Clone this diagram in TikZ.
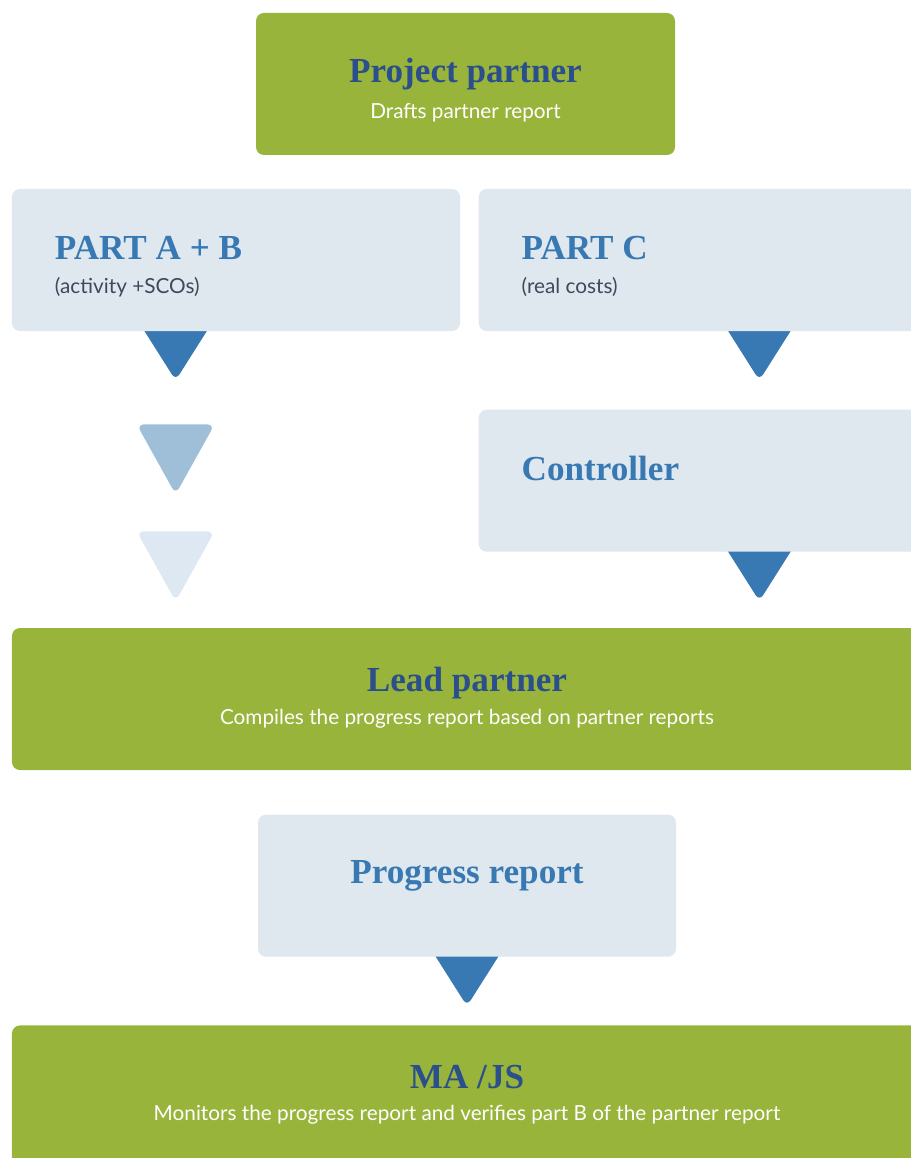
\documentclass[tikz,border=0pt]{standalone}
\usepackage{fontspec}
\setmainfont{Liberation Serif}
\newfontfamily\latofont{Lato}
\usetikzlibrary{positioning, calc, backgrounds}

\definecolor{leafgreen}{HTML}{98B43A}
\definecolor{paleblue}{HTML}{DFE7EF}
\definecolor{navy}{HTML}{2B4F8C}
\definecolor{steelblue}{HTML}{3879B3}
\definecolor{slate}{HTML}{3E4A5B}
\definecolor{fadeblue}{HTML}{9FBFD9}
\definecolor{faintblue}{HTML}{DDE8F2}

\begin{document}
\begin{tikzpicture}[
  x=0.2mm, y=-0.2mm,
  greenbox/.style={fill=leafgreen, rounded corners=1.6mm, minimum height=28.4mm, inner sep=0pt},
  greybox/.style={fill=paleblue, rounded corners=1.6mm, minimum height=28.4mm, minimum width=89.6mm, inner sep=0pt},
  bigtitle/.style={font=\bfseries\fontsize{20}{24}\selectfont, inner sep=0pt},
  subline/.style={font=\latofont\fontsize{11.8}{14}\selectfont, inner sep=0pt},
  pointer/.pic={\fill[rounded corners=1.4mm] (-38,-11) -- (38,-11) -- (0,49) -- cycle;},
  fadedpointer/.pic={\fill[rounded corners=1.5mm] (-39,0) -- (39,0) -- (0,70) -- cycle;}
]
\useasboundingbox (0,0) rectangle (911,1158);
\clip (0,0) rectangle (911,1158);

% boxes
\node[greenbox, minimum width=83.8mm] (pp) at (465.5,84) {};
\node[greybox] (pab) at (236,260) {};
\node[greybox, right=3.6mm of pab] (pc) {};
\node[greybox, below=15.6mm of pc] (ctrl) {};
\node[greenbox, minimum width=182mm] (lp) at (467,699) {};
\node[greybox, minimum width=83.6mm, below=8.8mm of lp] (pr) {};
\node[greenbox, minimum width=182mm, below=13.6mm of pr] (mj) {};

% texts
\node[bigtitle, text=navy, anchor=base] (pp-title) at ($(pp.north)+(0,70)$) {Project partner};
\node[subline, text=white, anchor=base] (pp-sub) at ($(pp.north)+(0,106)$) {Drafts partner report};
\node[bigtitle, text=steelblue, anchor=base west] (pab-title) at ($(pab.north west)+(43,71)$) {PART A + B};
\node[subline, text=slate, anchor=base west] (pab-sub) at ($(pab.north west)+(43,105)$) {(activity +SCOs)};
\node[bigtitle, text=steelblue, anchor=base west] (pc-title) at ($(pc.north west)+(43,71)$) {PART C};
\node[subline, text=slate, anchor=base west] (pc-sub) at ($(pc.north west)+(43,105)$) {(real costs)};
\node[bigtitle, text=steelblue, anchor=base west] (ctrl-title) at ($(ctrl.north west)+(43,71)$) {Controller};
\node[bigtitle, text=navy, anchor=base] (lp-title) at ($(lp.north)+(0,64)$) {Lead partner};
\node[subline, text=white, anchor=base] (lp-sub) at ($(lp.north)+(0,97)$) {Compiles the progress report based on partner reports};
\node[bigtitle, text=steelblue, anchor=base] (pr-title) at ($(pr.north)+(0,69)$) {Progress report};
\node[bigtitle, text=navy, anchor=base] (mj-title) at ($(mj.north)+(0,63)$) {MA /JS};
\node[subline, text=white, anchor=base] (mj-sub) at ($(mj.north)+(0,95)$) {Monitors the progress report and verifies part B of the partner report};

% pointers
\begin{scope}[on background layer]
  \pic[fill=steelblue] at ($(pab.south west)+(164,0)$) {pointer};
  \pic[fill=steelblue] at ($(pc.south west)+(281,0)$) {pointer};
  \pic[fill=steelblue] at ($(ctrl.south west)+(281,0)$) {pointer};
  \pic[fill=steelblue] at (pr.south) {pointer};
\end{scope}
\pic[fill=fadeblue] at ($(pab.south west)+(164,93)$) {fadedpointer};
\pic[fill=faintblue] at ($(pab.south west)+(164,200)$) {fadedpointer};
\end{tikzpicture}
\end{document}
